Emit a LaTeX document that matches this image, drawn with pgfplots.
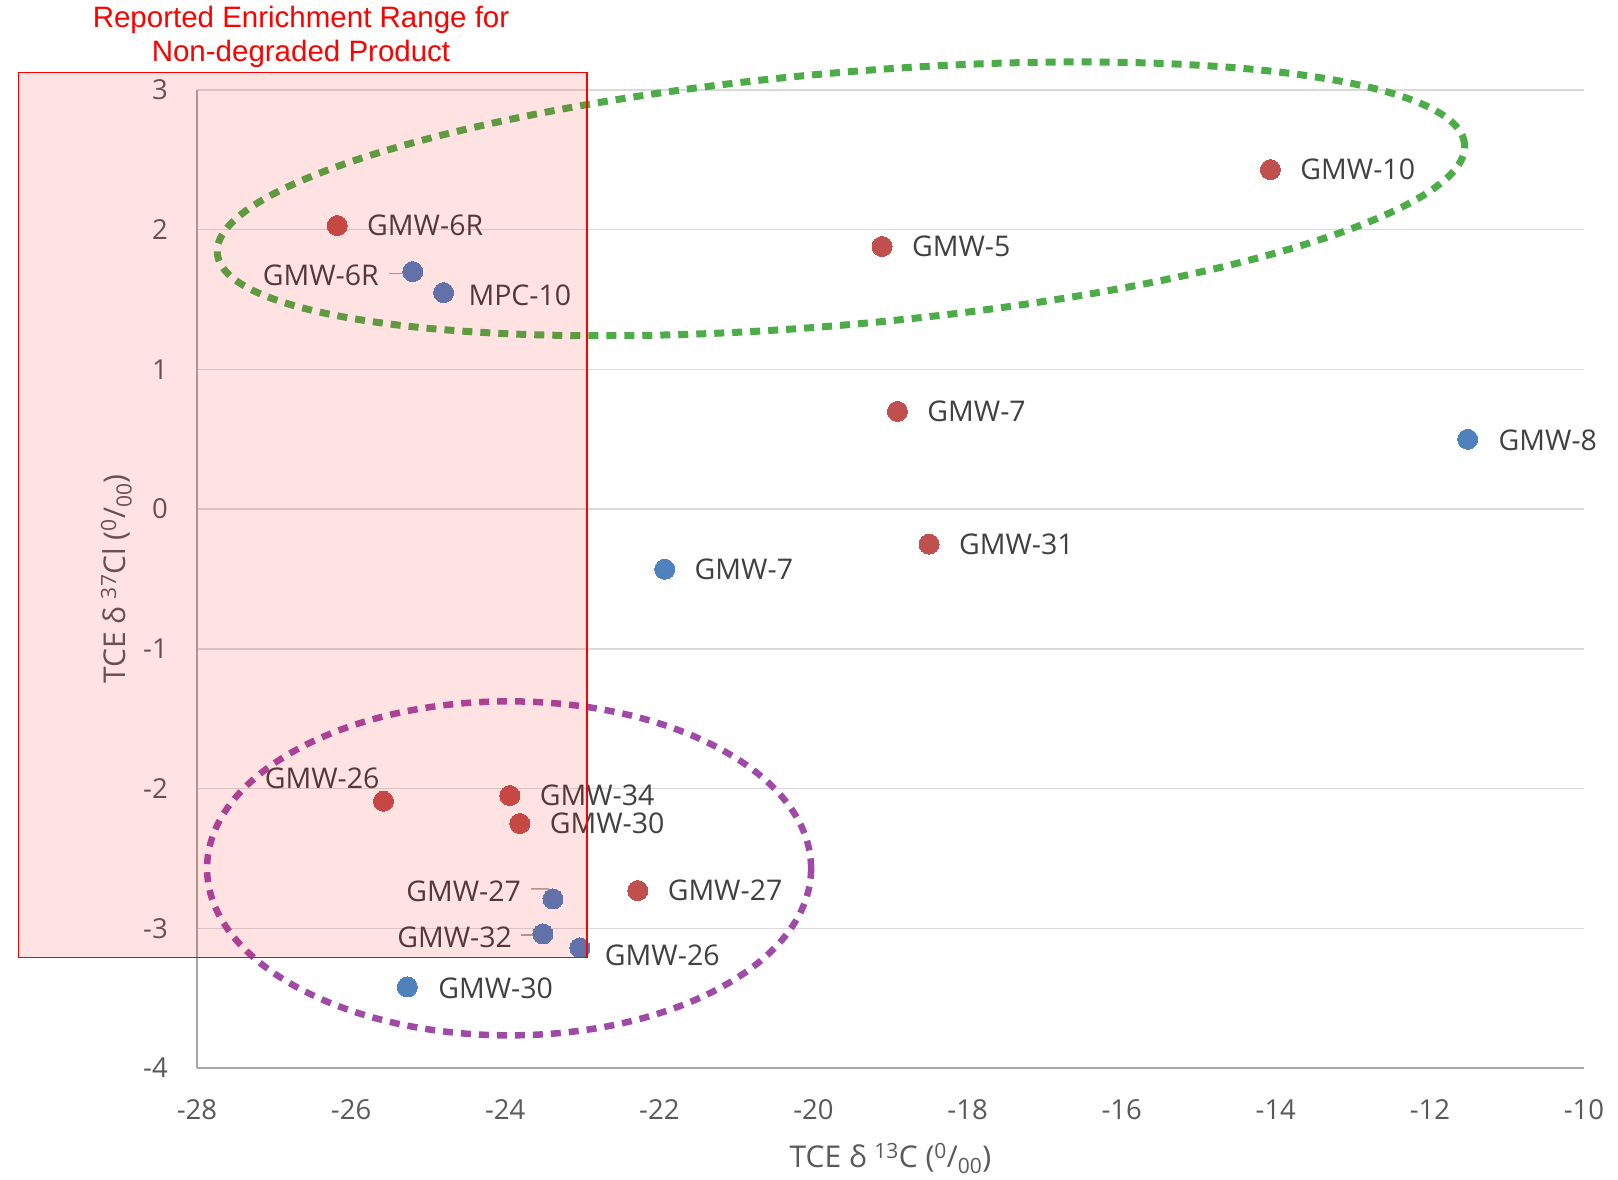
\documentclass[border=0pt]{standalone}
\usepackage{fontspec}
\setmainfont{Open Sans}
\newfontfamily\arialfont{Liberation Sans}
\usepackage{pgfplots}
\usepackage{pgfplotstable}
\pgfplotsset{compat=1.18}

\definecolor{ptred}{RGB}{192,80,77}
\definecolor{ptblue}{RGB}{79,129,189}
\definecolor{ticktext}{RGB}{89,89,89}
\definecolor{labeltext}{RGB}{64,64,64}
\definecolor{gridgray}{RGB}{217,217,217}
\definecolor{axisgray}{RGB}{166,166,166}
\definecolor{ringgreen}{RGB}{76,172,72}
\definecolor{ringpurple}{RGB}{160,74,168}

% TCE delta-13C (x) and delta-37Cl (y); label offsets per point
\pgfplotstableread{
x      y      label   dx   dy
-14.07  2.43  GMW-10  30   0
-26.18  2.03  GMW-6R  30   0
-19.11  1.88  GMW-5   30   0
-18.91  0.70  GMW-7   30   0
-18.50 -0.25  GMW-31  30   0
-23.94 -2.05  GMW-34  30   0
-23.81 -2.25  GMW-30  30   0
-22.28 -2.73  GMW-27  30   0
}\redright
\pgfplotstableread{
x      y      label   dx   dy
-25.58 -2.09  GMW-26  -4   23
}\redleft

\pgfplotstableread{
x      y      label   dx   dy
-24.80  1.55  MPC-10  25   -3
-11.51  0.50  GMW-8   31   -1
-21.93 -0.43  GMW-7   30   0
-23.03 -3.14  GMW-26  25   -7
-25.27 -3.42  GMW-30  31   -1
}\blueright
\pgfplotstableread{
x      y      label   dx   dy
-25.20  1.70  GMW-6R  -34  -4
-23.38 -2.79  GMW-27  -32  8
-23.51 -3.04  GMW-32  -31  -3
}\blueleft

\begin{document}
\begin{tikzpicture}
\begin{axis}[
  scale only axis,
  width=1387bp, height=978bp,
  xmin=-28, xmax=-10, ymin=-4, ymax=3,
  xtick={-28,-26,...,-10},
  ytick={-4,-3,...,3},
  axis lines*=left,
  axis line style={-, draw=axisgray, line width=2bp},
  major tick length=0pt,
  ymajorgrids,
  grid style={draw=gridgray, line width=1.5bp},
  clip=false,
  /pgf/number format/assume math mode=true,
  tick label style={font=\fontsize{27.5bp}{33bp}\selectfont, text=ticktext, inner sep=0pt},
  xticklabel style={anchor=base, yshift=-51bp},
  yticklabel style={anchor=east, xshift=-29bp},
  label style={font=\fontsize{30bp}{36bp}\selectfont, text=ticktext, inner sep=0pt},
  xlabel={TCE δ \textsuperscript{13}C (\textsuperscript{0}/\textsubscript{00})},
  ylabel={TCE δ \textsuperscript{37}Cl (\textsuperscript{0}/\textsubscript{00})},
  xlabel style={at={(axis description cs:0.5,-0.1015)}, anchor=base},
  ylabel style={at={(axis description cs:-0.0519,0.5)}, anchor=base},
  point meta=explicit symbolic,
  nodes near coords,
  visualization depends on={\thisrow{dx} \as \dx},
  visualization depends on={\thisrow{dy} \as \dy},
  every node near coord/.append style={
    xshift=\dx*1bp, yshift=\dy*1bp, inner sep=0pt,
    font=\fontsize{28.5bp}{34bp}\selectfont, text=labeltext},
  dotred/.style={only marks, color=ptred, mark=*, mark size=10bp,
    mark options={solid, draw=ptred, fill=ptred, line width=0pt}},
  dotblue/.style={only marks, color=ptblue, mark=*, mark size=10bp,
    mark options={solid, draw=ptblue, fill=ptblue, line width=0pt}},
]
\addplot[dotred, every node near coord/.append style={anchor=west}]
  table[x=x, y=y, meta=label] {\redright};
\addplot[dotred, every node near coord/.append style={anchor=east}]
  table[x=x, y=y, meta=label] {\redleft};
\addplot[dotblue, every node near coord/.append style={anchor=west}]
  table[x=x, y=y, meta=label] {\blueright};
\addplot[dotblue, every node near coord/.append style={anchor=east}]
  table[x=x, y=y, meta=label] {\blueleft};

% leader lines of the displaced labels
\draw[axisgray, line width=1.5bp]
  ([xshift=-24bp, yshift=-2bp]axis cs:-25.20,1.70) -- ([xshift=-5bp, yshift=-2bp]axis cs:-25.20,1.70);
\draw[axisgray, line width=1.5bp]
  ([xshift=-22bp, yshift=10bp]axis cs:-23.38,-2.79) -- ([xshift=-5bp, yshift=10bp]axis cs:-23.38,-2.79)
  -- ([yshift=2bp]axis cs:-23.38,-2.79);
\draw[axisgray, line width=1.5bp]
  ([xshift=-22bp, yshift=-1bp]axis cs:-23.51,-3.04) -- ([xshift=-4bp, yshift=-1bp]axis cs:-23.51,-3.04);

\coordinate (gc) at (axis cs:-19.643,2.221);
\coordinate (pc) at (axis cs:-23.95,-2.571);
\coordinate (r1) at (axis cs:-30.317,-3.21);
\coordinate (r2) at (axis cs:-22.94,3.126);
\coordinate (tt) at (axis cs:-26.650,3.378);
\coordinate (bb1) at (axis description cs:-0.14203,-0.11350);
\coordinate (bb2) at (axis description cs:1.02451,1.09202);
\end{axis}

% grouping rings
\draw[ringgreen, line width=7bp, dash pattern=on 10bp off 8bp, rotate around={5:(gc)}]
  (gc) ellipse [x radius=626bp, y radius=126bp];
\draw[ringpurple, line width=6.5bp, dash pattern=on 10bp off 8bp]
  (pc) ellipse [x radius=302bp, y radius=167bp];

% reported enrichment range for non-degraded product
\draw[red, line width=1.5bp, fill=red, fill opacity=0.11] (r1) rectangle (r2);
\node[align=center, text=red, inner sep=0pt,
      font=\arialfont\fontsize{29.5bp}{34bp}\selectfont] at (tt)
  {Reported Enrichment Range for\\Non-degraded Product};

\pgfresetboundingbox
\useasboundingbox (bb1) rectangle (bb2);
\end{tikzpicture}
\end{document}
